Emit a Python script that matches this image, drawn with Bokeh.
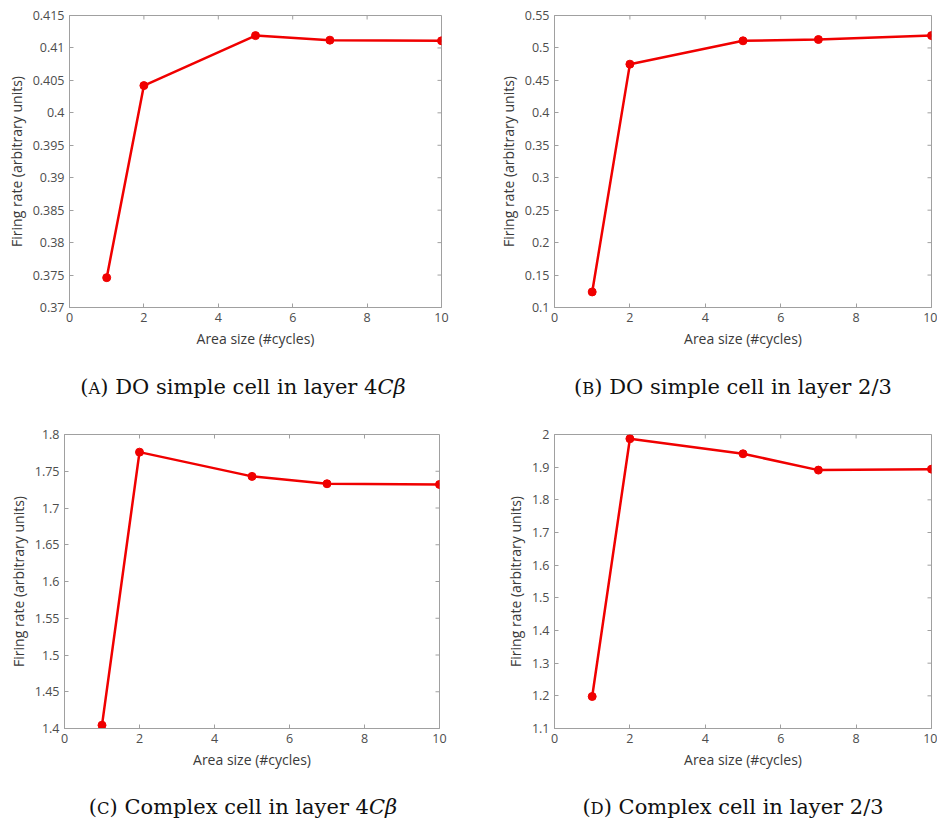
import math
from bokeh.plotting import figure
from bokeh.layouts import column, row
from bokeh.models import Div, FixedTicker, CustomJSTickFormatter, Range1d
from bokeh.embed import file_html
from bokeh.resources import INLINE

# ---- data ----
area_sizes = [1, 2, 5, 7, 10]
rate_a = [0.3746, 0.4042, 0.4119, 0.4112, 0.4111]
rate_b = [0.124, 0.475, 0.511, 0.513, 0.519]
rate_c = [1.4045, 1.776, 1.743, 1.733, 1.732]
rate_d = [1.198, 1.987, 1.941, 1.891, 1.894]

x_ticks = [0, 2, 4, 6, 8, 10]
y_ticks_a = [0.37, 0.375, 0.38, 0.385, 0.39, 0.395, 0.4, 0.405, 0.41, 0.415]
y_ticks_b = [0.1, 0.15, 0.2, 0.25, 0.3, 0.35, 0.4, 0.45, 0.5, 0.55]
y_ticks_c = [1.4, 1.45, 1.5, 1.55, 1.6, 1.65, 1.7, 1.75, 1.8]
y_ticks_d = [1.1, 1.2, 1.3, 1.4, 1.5, 1.6, 1.7, 1.8, 1.9, 2.0]

captions = [
    '(<span style="font-size:0.78em">A</span>) DO simple cell in layer 4<i>C&beta;</i>',
    '(<span style="font-size:0.78em">B</span>) DO simple cell in layer 2/3',
    '(<span style="font-size:0.78em">C</span>) Complex cell in layer 4<i>C&beta;</i>',
    '(<span style="font-size:0.78em">D</span>) Complex cell in layer 2/3',
]

X_LABEL = "Area size (#cycles)"
Y_LABEL = "Firing rate (arbitrary units)"

FRAME = "#a0a0a0"
TICKLBL = "#4d4d4d"
AXLBL = "#3a3a3a"
RED = "#f00000"

fmt = CustomJSTickFormatter(code="return parseFloat(tick.toFixed(4)).toString();")


def style_axis(ax):
    ax.axis_line_color = FRAME
    ax.major_tick_line_color = FRAME
    ax.major_tick_in = 4
    ax.major_tick_out = 0
    ax.minor_tick_line_color = None
    ax.major_label_text_font = "Open Sans"
    ax.major_label_text_font_size = "12.5px"
    ax.major_label_text_color = TICKLBL
    ax.major_label_standoff = 5
    ax.axis_label_text_font = "Open Sans"
    ax.axis_label_text_font_size = "14px"
    ax.axis_label_text_font_style = "normal"
    ax.axis_label_text_color = AXLBL
    ax.axis_label_standoff = 4


def panel(ys, yticks, ymin, ymax, w, h, left, right, top, bottom):
    p = figure(width=w, height=h, output_backend="svg", toolbar_location=None,
               x_range=Range1d(0, 10), y_range=Range1d(ymin, ymax),
               min_border_left=left, min_border_right=right,
               min_border_top=top, min_border_bottom=bottom)
    p.xgrid.visible = False
    p.ygrid.visible = False
    p.outline_line_color = FRAME
    p.outline_line_alpha = 1
    p.background_fill_color = "white"
    p.border_fill_color = "white"

    p.xaxis.ticker = FixedTicker(ticks=x_ticks)
    p.yaxis.ticker = FixedTicker(ticks=yticks)
    p.xaxis.formatter = fmt
    p.yaxis.formatter = fmt
    p.xaxis.axis_label = X_LABEL
    p.yaxis.axis_label = Y_LABEL
    style_axis(p.xaxis[0])
    style_axis(p.yaxis[0])

    # mirrored inward tick marks on the top and right edges of the box
    p.ray(x=[10] * len(yticks), y=yticks, length=4, length_units="screen",
          angle=math.pi, line_color=FRAME, line_width=1)
    p.ray(x=x_ticks, y=[ymax] * len(x_ticks), length=4, length_units="screen",
          angle=-math.pi / 2, line_color=FRAME, line_width=1)

    p.line(area_sizes, ys, line_color=RED, line_width=2.5)
    p.scatter(area_sizes, ys, size=8, fill_color=RED, line_color=RED)
    return p


pa = panel(rate_a, y_ticks_a, 0.37, 0.415, 470, 350, 69, 29, 15, 42)
pb = panel(rate_b, y_ticks_b, 0.1, 0.55, 467, 350, 84, 6, 12, 42)
pc = panel(rate_c, y_ticks_c, 1.4, 1.8, 470, 361, 64, 31, 24, 42)
pd = panel(rate_d, y_ticks_d, 1.1, 2.0, 467, 361, 84, 6, 24, 42)


def caption(html, w, h, pad_left, pad_top):
    return Div(text='<div style="box-sizing:content-box; width:%dpx; text-align:center; '
                    'padding-left:%dpx; padding-top:%dpx; '
                    'font-family:\'DejaVu Serif\'; font-size:21px; line-height:24px; color:#111; '
                    'white-space:nowrap;">%s</div>' % (w - pad_left, pad_left, pad_top, html),
               width=w, height=h, margin=0)


ca = caption(captions[0], 470, 60, 16, 25)
cb = caption(captions[1], 467, 60, 59, 25)
cc = caption(captions[2], 470, 55, 16, 24)
cd = caption(captions[3], 467, 55, 59, 24)

layout = column(row(pa, pb), row(ca, cb), row(pc, pd), row(cc, cd))

open("out.html", "w").write(file_html(layout, INLINE))
